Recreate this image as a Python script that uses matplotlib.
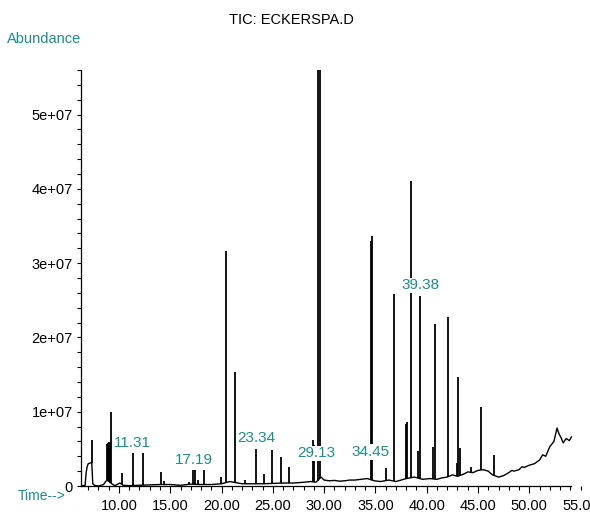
import numpy as np
import matplotlib.pyplot as plt
from matplotlib.ticker import MultipleLocator, FuncFormatter
from matplotlib.transforms import blended_transform_factory

# peaks (min, abundance)
peak_t = [7.35, 8.88, 8.95, 9.03, 9.10, 9.23, 10.27, 11.34, 12.32, 14.10, 14.40,
          16.80, 17.22, 17.45, 17.70, 18.32, 19.95, 20.44, 21.32, 22.30, 23.36,
          24.17, 24.89, 25.80, 26.60, 27.60, 28.88, 29.05, 29.36, 29.58, 34.55,
          34.62, 36.05, 36.78, 37.95, 38.12, 38.44, 39.18, 39.38, 40.58, 40.85,
          42.05, 42.95, 43.08, 43.25, 44.30, 45.26, 46.60]
peak_h = [6.2e6, 5.7e6, 5.8e6, 5.9e6, 5.9e6, 1.0e7, 1.8e6, 4.5e6, 4.5e6, 1.9e6, 0.7e6,
          0.5e6, 2.1e6, 2.1e6, 0.8e6, 2.1e6, 1.25e6, 3.17e7, 1.54e7, 0.8e6, 5.0e6,
          1.6e6, 4.85e6, 3.9e6, 2.55e6, 0.6e6, 6.2e6, 5.5e6, 8.0e7, 8.0e7, 3.3e7,
          3.37e7, 2.4e6, 2.58e7, 8.3e6, 8.6e6, 4.11e7, 4.7e6, 2.56e7, 5.2e6, 2.18e7,
          2.27e7, 3.1e6, 1.47e7, 5.1e6, 2.5e6, 1.07e7, 4.2e6]

# baseline of the trace
base_t = [6.3, 6.7, 6.8, 6.9, 7.0, 7.2, 7.35, 7.45, 7.6, 8.0, 8.5, 8.7, 8.85, 9.3,
          9.6, 10.1, 10.4, 11.0, 12.0, 13.0, 14.0, 15.0, 16.0, 17.0, 18.0, 19.0,
          20.0, 20.8, 21.6, 22.0, 23.0, 24.0, 25.0, 26.0, 27.0, 28.0, 28.7, 29.2,
          29.7, 30.0, 30.5, 31.0, 31.5, 32.0, 32.5, 33.0, 33.6, 34.2, 34.9, 35.5,
          36.3, 37.0, 37.5, 38.0, 38.8, 39.6, 40.3, 41.0, 41.5, 42.0, 42.5, 43.0,
          43.6, 44.0, 44.5, 45.0, 45.5, 46.0, 46.4, 47.0, 47.5, 48.0, 48.3, 48.5,
          49.0, 49.3, 49.5, 50.0, 50.5, 51.0, 51.3, 51.6, 52.0, 52.4, 52.7, 52.9,
          53.1, 53.3, 53.6, 53.9, 54.1]
base_y = [0.0, 0.1e6, 1.8e6, 2.6e6, 3.0e6, 3.1e6, 3.1e6, 0.3e6, 0.1e6, 0.0, 0.2e6,
          0.6e6, 0.8e6, 0.3e6, 0.05e6, 0.4e6, 0.1e6, 0.05e6, 0.1e6, 0.15e6, 0.2e6,
          0.2e6, 0.1e6, 0.25e6, 0.2e6, 0.2e6, 0.3e6, 0.6e6, 0.4e6, 0.3e6, 0.3e6,
          0.3e6, 0.35e6, 0.4e6, 0.4e6, 0.5e6, 0.6e6, 0.5e6, 1.2e6, 0.8e6, 0.7e6,
          0.75e6, 0.65e6, 0.7e6, 0.8e6, 0.8e6, 0.9e6, 1.0e6, 0.7e6, 0.6e6, 0.8e6,
          0.6e6, 0.8e6, 1.0e6, 1.2e6, 0.9e6, 1.0e6, 0.9e6, 1.1e6, 1.2e6, 1.5e6,
          1.3e6, 1.6e6, 1.9e6, 1.8e6, 2.1e6, 2.2e6, 2.0e6, 1.5e6, 1.2e6, 1.4e6,
          1.8e6, 2.1e6, 2.0e6, 2.2e6, 2.6e6, 2.5e6, 2.8e6, 3.0e6, 3.5e6, 4.2e6,
          4.0e6, 5.3e6, 6.0e6, 7.8e6, 7.0e6, 6.5e6, 5.8e6, 6.4e6, 6.1e6, 6.6e6]

# retention-time labels
lab_text = ["11.31", "17.19", "23.34", "29.13", "34.45", "39.38"]
lab_t = [11.33, 17.27, 23.36, 29.2, 34.5, 39.42]
lab_y = [5.84e6, 3.5e6, 6.43e6, 4.4e6, 4.6e6, 2.70e7]

teal = '#1f8c8c'
fs = 10.5
plt.rcParams['font.family'] = ['Liberation Sans', 'DejaVu Sans']

fig = plt.figure(figsize=(5.9, 5.15), dpi=100)
ax = fig.add_axes([81/590, 29/515, 499.6/590, 416/515])

ax.plot(base_t, base_y, color='black', lw=1.0)
bottoms = np.interp(peak_t, base_t, base_y)
ax.vlines(peak_t, bottoms, peak_h, color='black', lw=1.3)

for s, t, y in zip(lab_text, lab_t, lab_y):
    ax.text(t, y, s, color=teal, fontsize=fs + 0.5, ha='center', va='center',
            bbox=dict(facecolor='white', edgecolor='none', pad=0.5))

ax.set_xlim(6.3, 55)
ax.set_ylim(0, 5.6e7)
for s in ['top', 'right']:
    ax.spines[s].set_visible(False)
ax.spines['bottom'].set_bounds(6.3, 54.1)
ax.spines['left'].set_linewidth(0.9)
ax.spines['bottom'].set_linewidth(0.9)

ax.set_xticks([10, 15, 20, 25, 30, 35, 40, 45, 50])
ax.xaxis.set_minor_locator(MultipleLocator(1))
ax.xaxis.set_major_formatter(FuncFormatter(lambda v, p: f"{v:.2f}"))
ax.yaxis.set_major_locator(MultipleLocator(1e7))
ax.yaxis.set_minor_locator(MultipleLocator(2e6))
ax.yaxis.set_major_formatter(FuncFormatter(lambda v, p: "0" if v == 0 else f"{v:.0e}"))
ax.tick_params(axis='x', which='major', length=5, width=0.8, pad=4, labelsize=fs)
ax.tick_params(axis='x', which='minor', length=3, width=0.8)
ax.tick_params(axis='y', which='major', length=3, width=0.8, pad=3, labelsize=fs)
ax.tick_params(axis='y', which='minor', length=3, width=0.8)

trans = blended_transform_factory(ax.transData, ax.transAxes)
ax.text(55, -0.031, "55.00", transform=trans, fontsize=fs, ha='center', va='top',
        clip_on=False)

fig.text(291/590, 1 - 20/515, "TIC: ECKERSPA.D", ha='center', va='center', fontsize=fs)
fig.text(7/590, 1 - 38.5/515, "Abundance", color=teal, ha='left', va='center', fontsize=fs)
fig.text(66/590, 1 - 496/515, "Time-->", color=teal, ha='right', va='center', fontsize=10)

fig.savefig('out.png', dpi=100)
